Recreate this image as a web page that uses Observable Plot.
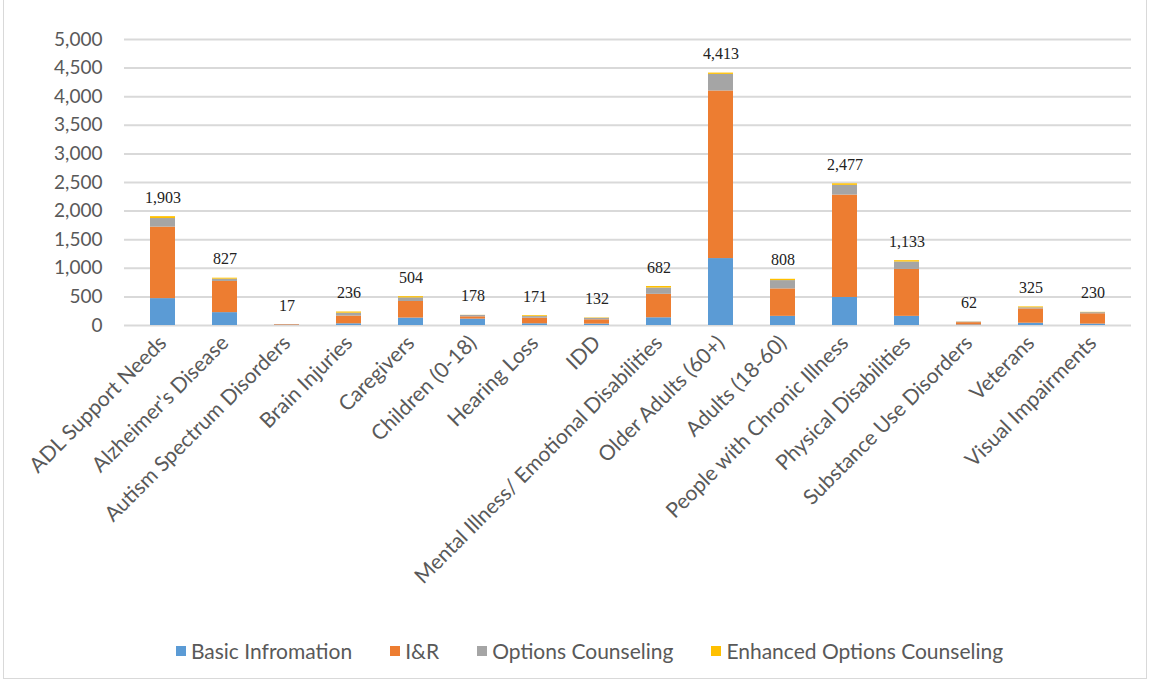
<!DOCTYPE html>
<html>
<head>
<meta charset="utf-8">
<script src="https://cdn.jsdelivr.net/npm/d3@7"></script>
<script src="https://cdn.jsdelivr.net/npm/@observablehq/plot@0.6"></script>
<style>
  html, body { margin: 0; padding: 0; background: #fff; }
  #frame { position: absolute; left: 3px; top: -2px; width: 1144px; height: 681px; border: 1px solid #d9d9d9; box-sizing: border-box; }
  #chart { position: absolute; left: 0; top: 0; }
  #legend { position: absolute; left: 0; top: 638px; width: 1151px; display: flex; justify-content: center; gap: 38px;
            font-family: Lato, "Open Sans", sans-serif; font-size: 21px; color: #595959; padding-left: 28px; box-sizing: border-box; }
  #legend .item { display: flex; align-items: center; }
  #legend .sw { width: 10px; height: 10px; margin-right: 5px; }
</style>
</head>
<body>
<div id="frame"></div>
<div id="chart"></div>
<div id="legend"></div>
<script>
const categories = ["ADL Support Needs", "Alzheimer's Disease", "Autism Spectrum Disorders", "Brain Injuries", "Caregivers", "Children (0-18)", "Hearing Loss", "IDD", "Mental Illness/ Emotional Disabilities", "Older Adults (60+)", "Adults (18-60)", "People with Chronic Illness", "Physical Disabilities", "Substance Use Disorders", "Veterans", "Visual Impairments"];
const basicInfo = [470, 225, 5, 30, 130, 112, 30, 25, 135, 1170, 160, 490, 160, 10, 40, 25];
const iAndR     = [1250, 545, 10, 135, 290, 40, 98, 75, 410, 2930, 480, 1790, 820, 40, 250, 180];
const optionsC  = [150, 40, 2, 50, 62, 24, 28, 25, 110, 290, 145, 170, 130, 10, 20, 20];
const enhancedC = [33, 17, 0, 21, 22, 2, 15, 7, 27, 23, 23, 27, 23, 2, 15, 5];
const totals    = [1903, 827, 17, 236, 504, 178, 171, 132, 682, 4413, 808, 2477, 1133, 62, 325, 230];
const seriesNames = ["Basic Infromation", "I&R", "Options Counseling", "Enhanced Options Counseling"];
const seriesColors = ["#5B9BD5", "#ED7D31", "#A5A5A5", "#FFC000"];
const yTicks = [0, 500, 1000, 1500, 2000, 2500, 3000, 3500, 4000, 4500, 5000];

const seriesValues = [basicInfo, iAndR, optionsC, enhancedC];
const rows = [];
categories.forEach((c, i) => {
  seriesNames.forEach((s, j) => rows.push({category: c, series: s, value: seriesValues[j][i]}));
});
const totalRows = categories.map((c, i) => ({category: c, total: totals[i]}));

const chart = Plot.plot({
  width: 1151,
  height: 625,
  marginLeft: 124,
  marginRight: 20,
  marginTop: 39,
  marginBottom: 300,
  style: {fontFamily: "Lato, 'Open Sans', sans-serif", background: "transparent"},
  x: {domain: categories, paddingInner: 0.6, paddingOuter: 0.3, label: null},
  y: {domain: [0, 5000], label: null},
  color: {domain: seriesNames, range: seriesColors},
  marks: [
    Plot.gridY(yTicks, {stroke: "#d9d9d9", strokeOpacity: 1, strokeWidth: 2}),
    Plot.axisY(yTicks, {tickFormat: d3.format(","), tickSize: 0, tickPadding: 22, fontSize: 19, fill: "#595959", label: null}),
    Plot.axisX({tickRotate: -45, tickSize: 0, tickPadding: 14, fontSize: 21, fill: "#595959", label: null}),
    Plot.barY(rows, {x: "category", y: "value", fill: "series", order: seriesNames}),
    Plot.text(totalRows, {x: "category", y: "total", text: d => d3.format(",")(d.total), dy: -19,
      fontFamily: "'Liberation Serif', 'Times New Roman', serif", fontSize: 16, fill: "#222"})
  ]
});
document.getElementById("chart").appendChild(chart);

const legend = document.getElementById("legend");
seriesNames.forEach((s, j) => {
  const item = document.createElement("div");
  item.className = "item";
  const sw = document.createElement("span");
  sw.className = "sw";
  sw.style.background = seriesColors[j];
  const t = document.createElement("span");
  t.textContent = s;
  item.appendChild(sw); item.appendChild(t);
  legend.appendChild(item);
});
</script>
</body>
</html>
